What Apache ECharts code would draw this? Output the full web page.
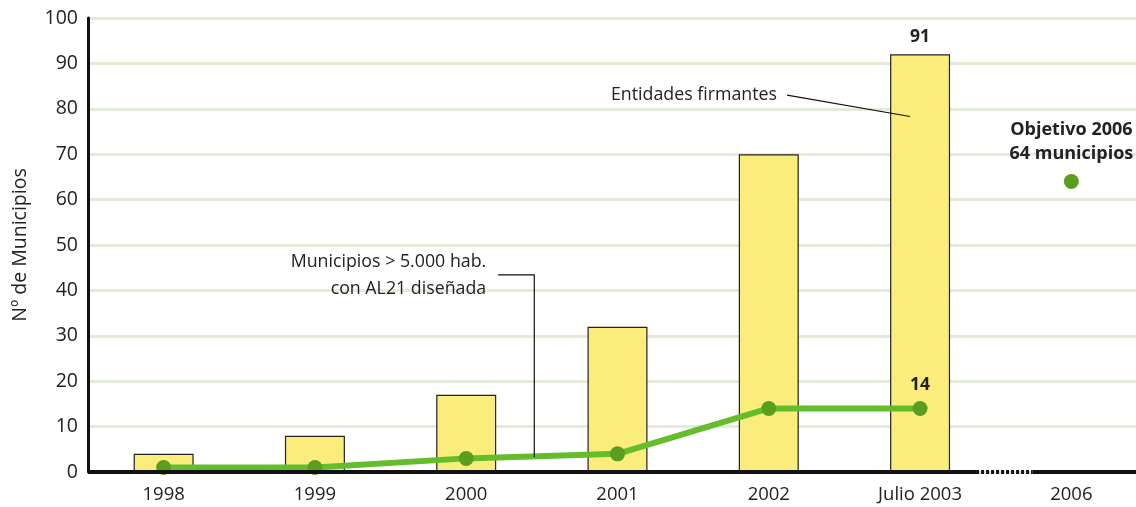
<!DOCTYPE html>
<html><head><meta charset="utf-8">
<script src="https://cdn.jsdelivr.net/npm/echarts@6/dist/echarts.min.js"></script>
<style>html,body{margin:0;padding:0;background:#fff}#c{width:1136px;height:507px}</style>
</head><body><div id="c"></div>
<script>
const categories = ['1998', '1999', '2000', '2001', '2002', 'Julio 2003', '2006'];
const entidades = [4, 8, 17, 32, 70, 92, null];
const entidadesLabels = ['', '', '', '', '', '91', ''];
const municipios = [1, 1, 3, 4, 14, 14, null];
const municipiosLabels = ['', '', '', '', '', '14', ''];
const objetivo = [null, null, null, null, null, null, 64];
const yMin = 0, yMax = 100, yStep = 10;

const FONT = '"Open Sans", Lato, sans-serif';
const chart = echarts.init(document.getElementById('c'), null, {renderer: 'canvas'});
chart.setOption({
  animation: false,
  textStyle: {fontFamily: FONT},
  grid: {left: 88, top: 18, bottom: 35, right: -11, containLabel: false, outerBoundsMode: 'none'},
  xAxis: {
    type: 'category', data: categories, boundaryGap: true,
    axisLine: {show: false}, axisTick: {show: false},
    axisLabel: {fontSize: 18.5, color: '#222', margin: 13, fontFamily: FONT}
  },
  yAxis: {
    type: 'value', min: yMin, max: yMax, interval: yStep,
    name: 'Nº de Municipios', nameLocation: 'middle', nameGap: 58,
    nameTextStyle: {fontSize: 19.5, color: '#222', fontFamily: FONT},
    axisLine: {show: true, lineStyle: {color: '#111', width: 3}},
    axisTick: {show: false},
    axisLabel: {fontSize: 19.5, color: '#222', margin: 10, fontFamily: FONT},
    splitLine: {show: true, lineStyle: {color: '#e2ecd9', width: 3}}
  },
  series: [
    {
      type: 'bar', data: entidades, barWidth: 60, z: 2,
      itemStyle: {color: '#faed7c', borderColor: '#222', borderWidth: 1.2},
      label: {show: true, position: 'top', distance: 8, fontSize: 17.5, fontWeight: 'bold', color: '#222',
        formatter: p => entidadesLabels[p.dataIndex]}
    },
    {
      type: 'line', data: municipios, z: 5, symbol: 'circle', symbolSize: 15,
      lineStyle: {color: '#65bd2c', width: 6},
      itemStyle: {color: '#5b9e1f'},
      label: {show: true, position: 'top', distance: 7, fontSize: 17.5, fontWeight: 'bold', color: '#222',
        formatter: p => municipiosLabels[p.dataIndex]}
    },
    {
      type: 'scatter', data: objetivo, z: 5, symbol: 'circle', symbolSize: 15,
      itemStyle: {color: '#5b9e1f', opacity: 1},
      label: {show: true, position: 'top', distance: 8, fontSize: 18, fontWeight: 'bold', color: '#222', opacity: 1, lineHeight: 24,
        formatter: 'Objetivo 2006\n64 municipios'}
    }
  ]
});

const P = (i, v) => chart.convertToPixel({gridIndex: 0}, [i, v]);
const base = P(0, 0)[1];
const x0 = 88, xJ = P(5, 0)[0], x6 = P(6, 0)[0];
const x2 = P(2, 0)[0], x3 = P(3, 0)[0];
const dotStart = xJ + 56, dotEnd = x6 - 39;
const pEnt = P(5, 83);
const pEntEnd = P(5, 78.3);
const pMunA = P(2, 43.4);
const xMunLead = x2 + 0.45 * (x3 - x2);
const yMunLead = P(2, 3.3)[1];
const txt = {fontSize: 17.8, fill: '#222', fontFamily: FONT};
chart.setOption({
  graphic: [
    {type: 'line', shape: {x1: x0, y1: base, x2: dotStart, y2: base}, style: {stroke: '#111', lineWidth: 4}, z: 10},
    {type: 'line', shape: {x1: dotStart, y1: base, x2: dotEnd, y2: base}, style: {stroke: '#111', lineWidth: 4, lineDash: [3, 2]}, z: 10},
    {type: 'line', shape: {x1: dotEnd, y1: base, x2: 1136, y2: base}, style: {stroke: '#111', lineWidth: 4}, z: 10},
    {type: 'text', x: pEnt[0] - 143, y: pEnt[1], style: Object.assign({text: 'Entidades firmantes', align: 'right', verticalAlign: 'middle'}, txt), z: 10},
    {type: 'line', shape: {x1: pEnt[0] - 133, y1: pEnt[1], x2: pEntEnd[0] - 10, y2: pEntEnd[1]}, style: {stroke: '#111', lineWidth: 1.2}, z: 10},
    {type: 'text', x: pMunA[0] + 20, y: pMunA[1], style: Object.assign({text: 'Municipios > 5.000 hab.\ncon AL21 diseñada', align: 'right', verticalAlign: 'middle', lineHeight: 27}, txt), z: 10},
    {type: 'polyline', shape: {points: [[pMunA[0] + 32, pMunA[1]], [xMunLead, pMunA[1]], [xMunLead, yMunLead]]}, style: {stroke: '#111', lineWidth: 1.2, fill: null}, z: 10}
  ]
});
</script></body></html>
